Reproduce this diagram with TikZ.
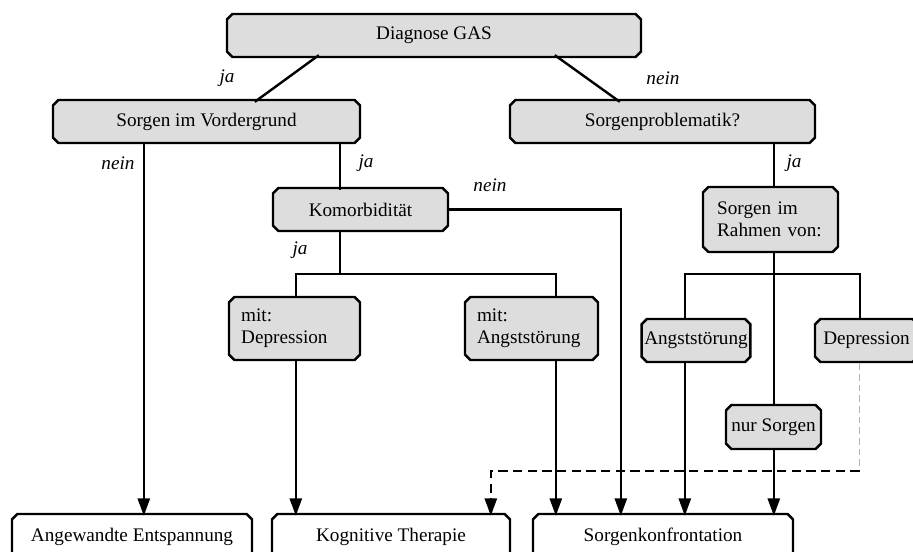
\documentclass[tikz,border=0pt]{standalone}
\usepackage{fontspec}
\setmainfont{Liberation Serif}
\usetikzlibrary{shapes.misc,arrows.meta,calc}
\definecolor{boxgray}{RGB}{221,221,221}
\begin{document}
\begin{tikzpicture}[x=0.75pt,y=-0.75pt,
  every node/.style={font=\fontsize{14.4}{16.5}\selectfont},
  basebox/.style={chamfered rectangle, chamfered rectangle xsep=2pt, chamfered rectangle ysep=2pt,
    draw, line width=1.8pt, inner sep=0pt},
  gbox/.style={basebox, fill=boxgray},
  wbox/.style={basebox, fill=white},
  conn/.style={line width=1.8pt},
  arr/.style={line width=1.8pt, -{Triangle[length=13pt,width=9pt]}},
  dasharr/.style={line width=1.8pt, dash pattern=on 7pt off 4pt, -{Triangle[length=13pt,width=9pt]}},
  graydash/.style={line width=0.6pt, draw=black!30, dash pattern=on 5pt off 3pt},
  lab/.style={font=\fontsize{14.4}{16.5}\selectfont\itshape}
]
\useasboundingbox (0,0) rectangle (913,552);
\clip (0,0) rectangle (913,552);

% nodes
\node[gbox, minimum width=310.5pt, minimum height=32.25pt] (diag) at (434,35.5) {Diagnose GAS};
\node[gbox, minimum width=230.25pt, minimum height=32.25pt] (siv) at (206.5,121.5) {Sorgen im Vordergrund};
\node[gbox, minimum width=228.75pt, minimum height=32.25pt] (sp) at (662.5,121.5) {Sorgenproblematik?};
\node[gbox, minimum width=131.25pt, minimum height=32.25pt] (kom) at (360.5,209.5) {Komorbidität};
\node[gbox, minimum width=101.25pt, minimum height=48.75pt, text width=80pt, align=left] (srv) at (770.5,219.5) {Sorgen im\\Rahmen von:};
\node[gbox, minimum width=98.25pt, minimum height=47.25pt, text width=80pt, align=left] (mdep) at (294.5,328.5) {mit:\\Depression};
\node[gbox, minimum width=99.75pt, minimum height=47.25pt, text width=81.75pt, align=left] (mang) at (531.5,328.5) {mit:\\Angststörung};
\node[gbox, minimum width=81pt, minimum height=32.25pt] (ang) at (696,340.5) {Angststörung};
\node[gbox, minimum width=77.25pt, minimum height=32.25pt] (dep) at (866.5,340.5) {Depression};
\node[gbox, minimum width=71.25pt, minimum height=33pt] (nur) at (773.5,427) {nur Sorgen};
\node[wbox, minimum width=180pt, minimum height=34.5pt] (ae) at (132,537) {Angewandte Entspannung};
\node[wbox, minimum width=178.5pt, minimum height=34.5pt] (kt) at (391,537) {Kognitive Therapie};
\node[wbox, minimum width=195pt, minimum height=34.5pt] (sk) at (663,537) {Sorgenkonfrontation};

% reference points on node borders
\coordinate (pA) at ($(diag.south west)+(90,0)$);
\coordinate (pB) at ($(siv.north west)+(200,0)$);
\coordinate (pC) at ($(diag.south west)+(326,0)$);
\coordinate (pD) at ($(sp.north west)+(108,0)$);
\coordinate (xAE) at ($(ae.north west)+(130,0)$);
\coordinate (xK) at ($(kom.north west)+(65,0)$);
\coordinate (xKT1) at ($(kt.north west)+(22,0)$);
\coordinate (xKT2) at ($(kt.north west)+(217,0)$);
\coordinate (xSK1) at ($(sk.north west)+(21,0)$);
\coordinate (xSK2) at ($(sk.north west)+(86,0)$);
\coordinate (xSK3) at ($(sk.north west)+(150,0)$);
\coordinate (xSK4) at ($(sk.north west)+(239,0)$);
\coordinate (xD) at ($(dep.north west)+(43,0)$);
\coordinate (kb) at ($(kom.south)+(0,42)$);
\coordinate (sb) at ($(srv.south)+(0,21)$);
\coordinate (dc) at ($(dep.south -| xD)+(0,108)$);

% connectors
\draw[conn] (pA) -- (pB);
\draw[conn] (pC) -- (pD);
\draw[arr] (siv.south -| xAE) -- (xAE);
\draw[conn] (siv.south -| xK) -- (xK);
\draw[arr] (kom.east) -| (xSK2);
\draw[conn] (kom.south -| xK) -- (kb -| xK);
\draw[conn] (xKT1 |- mdep.north) |- (kb -| xK) -| (xSK1 |- mang.north);
\draw[arr] (xKT1 |- mdep.south) -- (xKT1);
\draw[arr] (xSK1 |- mang.south) -- (xSK1);
\draw[conn] (sp.south -| xSK4) -- (srv.north -| xSK4);
\draw[conn] (srv.south -| xSK4) -- (nur.north -| xSK4);
\draw[conn] (xSK3 |- ang.north) |- (sb -| xSK4) -| (xD |- dep.north);
\draw[arr] (xSK3 |- ang.south) -- (xSK3);
\draw[arr] (nur.south -| xSK4) -- (xSK4);
\draw[graydash] (dep.south -| xD) -- (dc);
\draw[dasharr] (dc) -| (xKT2);

% labels
\node[lab] at (227,78) {ja};
\node[lab] at (663,78) {nein};
\node[lab] at (118,163) {nein};
\node[lab] at (366,163) {ja};
\node[lab] at (794,163) {ja};
\node[lab] at (490,185) {nein};
\node[lab] at (300,250) {ja};
\end{tikzpicture}
\end{document}
